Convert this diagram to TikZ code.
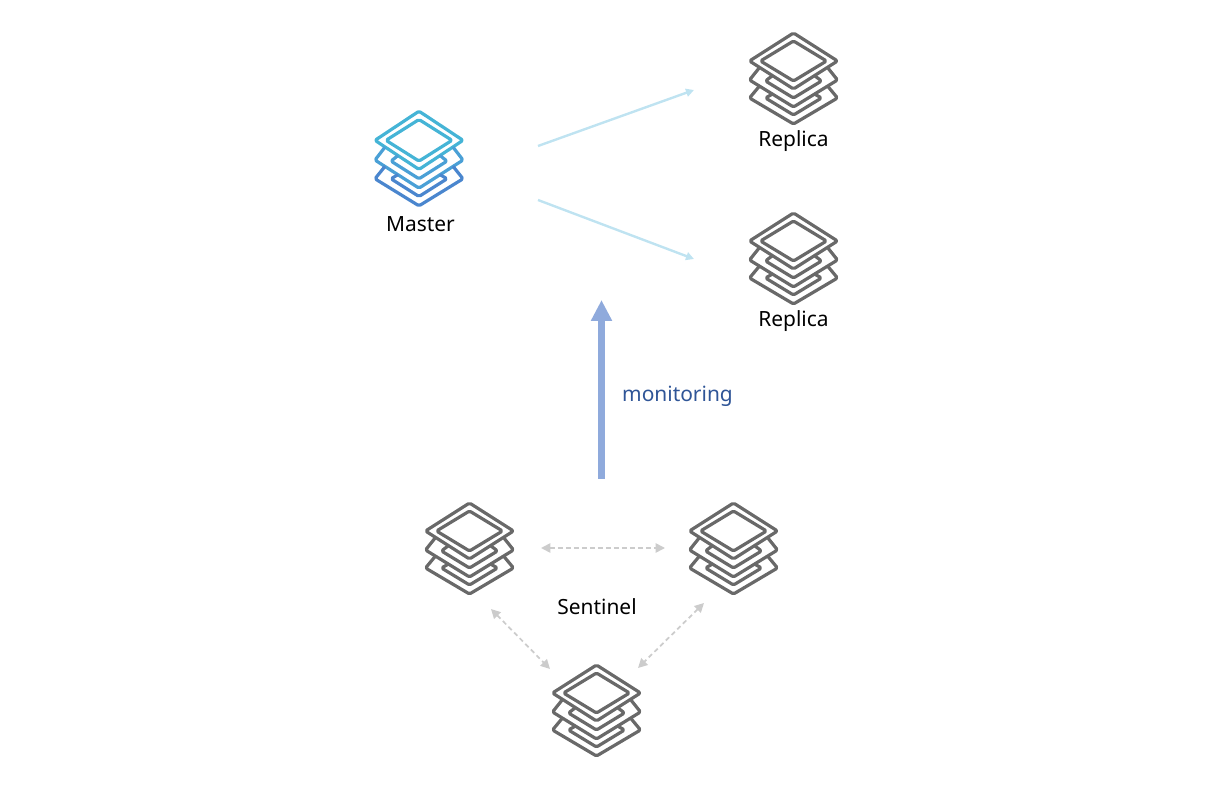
\documentclass[tikz,border=0pt]{standalone}
\usepackage{fontspec}
\setmainfont{Noto Sans}
\usepackage{tikz}
\usetikzlibrary{arrows.meta,positioning}
\definecolor{stackgray}{HTML}{696969}
\definecolor{mastertop}{HTML}{45B4D6}
\definecolor{mastermid}{HTML}{4AA0D6}
\definecolor{masterlow}{HTML}{4A86CE}
\definecolor{replarrow}{HTML}{BFE3F1}
\definecolor{monarrow}{HTML}{8FAADC}
\definecolor{montext}{HTML}{2F5597}
\definecolor{gossip}{HTML}{CCCCCC}

\begin{document}
\begin{tikzpicture}[
  x=0.75pt,y=-0.75pt,
  lbl/.style={font=\fontsize{15.7}{18}\selectfont,inner sep=0pt,text=black},
  repl/.style={-{Triangle[length=6pt,width=6pt]},replarrow,line width=1.8pt},
  gossiparr/.style={{Triangle[length=7pt,width=7pt]}-{Triangle[length=7pt,width=7pt]},gossip,
                    line width=1.3pt,dash pattern=on 3.5pt off 2.5pt},
  mon/.style={-{Triangle[length=15.75pt,width=15pt]},monarrow,line width=5.25pt},
  pics/stack/.style n args={3}{code={
    % top layer
    \draw[#1,line width=2.4pt,line join=round,rounded corners=1.2pt]
      (0,-45) -- (44,-17) -- (0,11) -- (-44,-17) -- cycle
      (0,-37) -- (33,-17) -- (0,3) -- (-33,-17) -- cycle;
    % middle layer
    \draw[#2,line width=2.4pt,line join=round,rounded corners=1.2pt]
      (-34,-10.5) -- (-44,2) -- (0,29) -- (44,2) -- (34,-10.5)
      (-21,-2.4) -- (-28,3) -- (0,20) -- (28,3) -- (21,-2.4);
    % bottom layer
    \draw[#3,line width=2.4pt,line join=round,rounded corners=1.2pt]
      (-34,8) -- (-44,20) -- (0,46) -- (44,20) -- (34,8)
      (-21,16) -- (-28,20) -- (0,37) -- (28,20) -- (21,16);
  }}
]
\useasboundingbox (0,0) rectangle (1217,787);

\coordinate (master) at (419,158);
\coordinate (replicaA) at (793.5,78);
\coordinate (replicaB) at (793.5,258);
\coordinate (sentA) at (469.5,548);
\coordinate (sentB) at (733.5,548);
\coordinate (sentC) at (596.5,710);

\pic[yscale=1.04] at (master) {stack={mastertop}{mastermid}{masterlow}};
\pic at (replicaA) {stack={stackgray}{stackgray}{stackgray}};
\pic at (replicaB) {stack={stackgray}{stackgray}{stackgray}};
\pic at (sentA) {stack={stackgray}{stackgray}{stackgray}};
\pic at (sentB) {stack={stackgray}{stackgray}{stackgray}};
\pic at (sentC) {stack={stackgray}{stackgray}{stackgray}};

\node[lbl] (masterlbl)   at (420.5,224) {Master};
\node[lbl] (replicaAlbl) at (793.5,141) {Replica};
\node[lbl] (replicaBlbl) at (793.5,321) {Replica};
\node[lbl] (sentlbl)     at (597,607)   {Sentinel};
\node[lbl,text=montext] (monlbl) at (677.5,396) {monitoring};

\coordinate (masterup)   at (538,146);
\coordinate (masterdown) at (538,200);
\coordinate (replAin)    at (694,90);
\coordinate (replBin)    at (694,259);
\coordinate (monfrom)    at (601.5,479);
\coordinate (monto)      at (601.5,300);
\coordinate (gabl) at (541,548);
\coordinate (gabr) at (665,548);
\coordinate (gacu) at (491,609);
\coordinate (gacd) at (550,669);
\coordinate (gbcu) at (704,603);
\coordinate (gbcd) at (638,668);

\draw[repl] (masterup) -- (replAin);
\draw[repl] (masterdown) -- (replBin);
\draw[mon] (monfrom) -- (monto);
\draw[gossiparr] (gabl) -- (gabr);
\draw[gossiparr] (gacu) -- (gacd);
\draw[gossiparr] (gbcu) -- (gbcd);
\end{tikzpicture}
\end{document}
